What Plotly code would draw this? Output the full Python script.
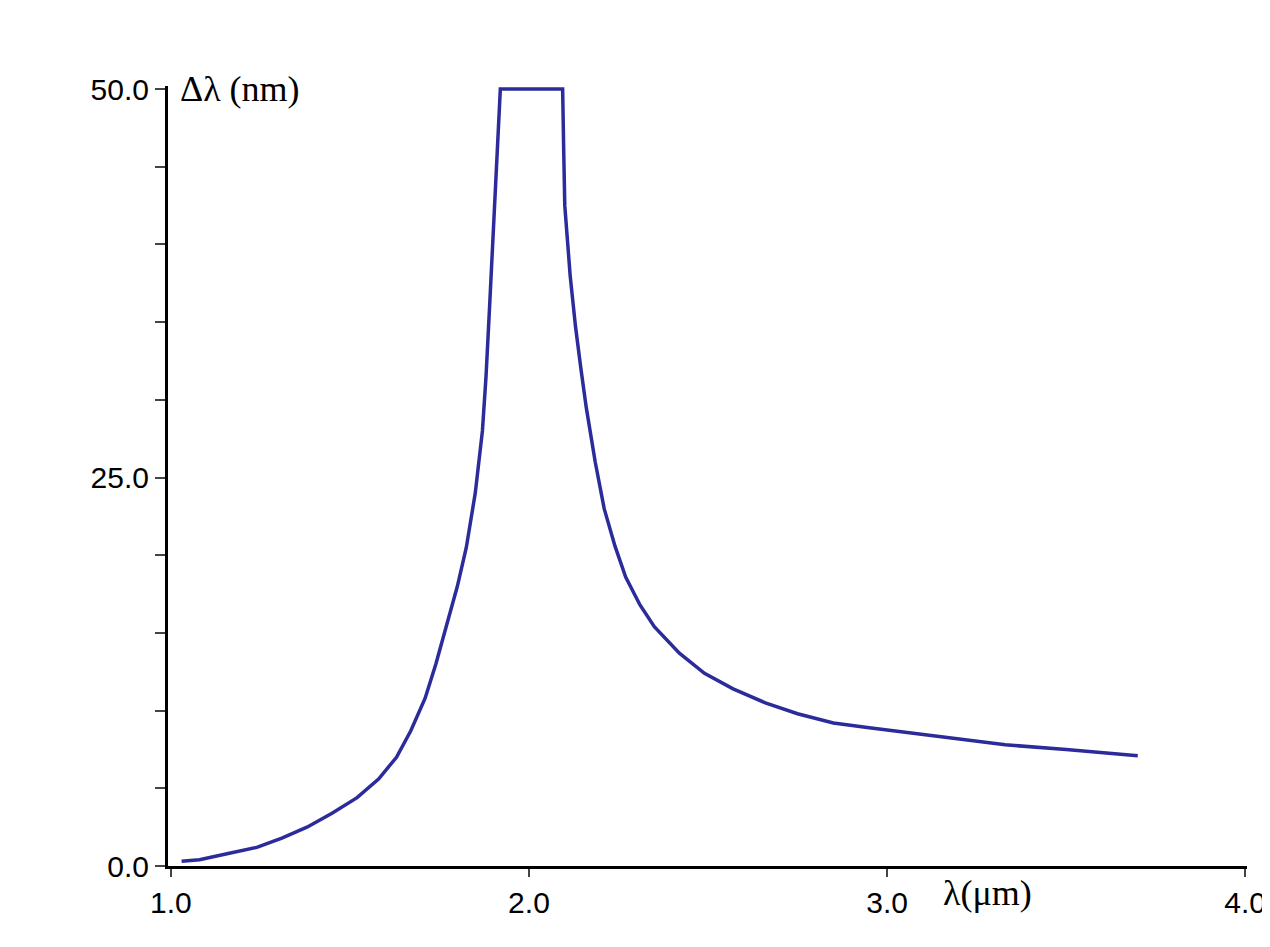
import plotly.graph_objects as go

# wavelength (um) and bandwidth (nm)
lam = [1.03, 1.08, 1.16, 1.24, 1.31, 1.38, 1.45, 1.52, 1.58, 1.63, 1.67, 1.71, 1.74, 1.77,
       1.80, 1.825, 1.85, 1.87, 1.88, 1.89, 1.90, 1.91, 1.915,
       1.92, 2.0, 2.094,
       2.097, 2.10, 2.115, 2.13, 2.145, 2.16, 2.185, 2.21, 2.24, 2.27, 2.31, 2.35, 2.42,
       2.49, 2.57, 2.66, 2.75, 2.85, 2.95, 3.05, 3.19, 3.33, 3.50, 3.70]
dlam = [0.3, 0.4, 0.8, 1.2, 1.8, 2.5, 3.4, 4.4, 5.6, 7.0, 8.7, 10.8, 13.0, 15.4,
        18.0, 20.5, 24.0, 28.0, 31.5, 36.0, 41.0, 46.0, 48.5,
        50.0, 50.0, 50.0,
        46.0, 42.5, 38.0, 34.7, 32.0, 29.5, 26.0, 23.0, 20.6, 18.6, 16.8, 15.4, 13.7,
        12.4, 11.4, 10.5, 9.8, 9.2, 8.9, 8.6, 8.2, 7.8, 7.5, 7.1]

x_ticks = [1.0, 2.0, 3.0, 4.0]
y_ticks = [0, 5, 10, 15, 20, 25, 30, 35, 40, 45, 50]
y_labels = ["0.0", "", "", "", "", "25.0", "", "", "", "", "50.0"]

fig = go.Figure()
fig.add_trace(go.Scatter(x=lam, y=dlam, mode="lines", line=dict(color="#2b2b9c", width=3.5)))

fig.update_layout(
    width=1270, height=947, showlegend=False,
    plot_bgcolor="white", paper_bgcolor="white",
    margin=dict(l=160, r=25, t=78, b=89),
    font=dict(family="Liberation Sans, Arial", size=30, color="black"),
)
fig.update_xaxes(range=[0.992, 4.005], tickvals=x_ticks, ticktext=["1.0", "2.0", "3.0", "4.0"],
                 showline=True, linecolor="black", linewidth=3, ticks="outside", ticklen=8,
                 tickwidth=2, showgrid=False, zeroline=False)
fig.update_yaxes(range=[0, 50.2], tickvals=y_ticks, ticktext=y_labels,
                 showline=True, linecolor="black", linewidth=3, ticks="outside", ticklen=10,
                 tickwidth=2, showgrid=False, zeroline=False)

fig.add_annotation(x=1.02, y=50, xref="x", yref="y", text="Δλ (nm)", showarrow=False,
                   xanchor="left", yanchor="middle", font=dict(family="Liberation Serif", size=36))
fig.add_annotation(x=3.28, y=-0.035, xref="x", yref="paper", text="λ(μm)", showarrow=False,
                   xanchor="center", yanchor="middle", font=dict(family="Liberation Serif", size=36))

fig.write_html("out.html")
